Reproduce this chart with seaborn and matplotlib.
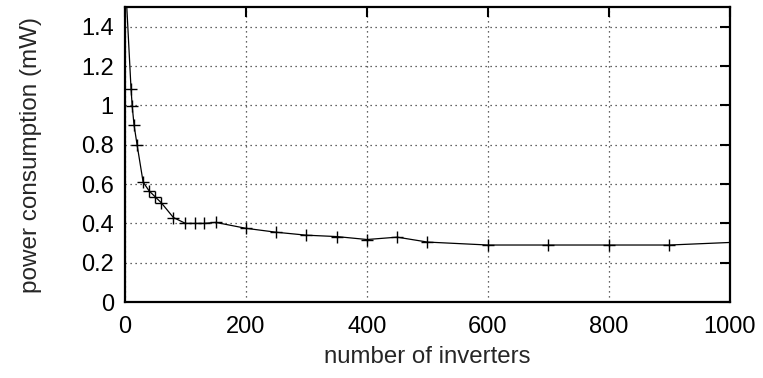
import matplotlib
matplotlib.use("Agg")
import matplotlib.pyplot as plt
import seaborn as sns
import pandas as pd

inverters = [2, 10, 12, 15, 20, 30, 40, 50, 60, 80, 100, 115, 130, 150,
             200, 250, 300, 350, 400, 450, 500, 600, 700, 800, 900, 1100]
power = [1.56, 1.085, 0.995, 0.90, 0.80, 0.61, 0.565, 0.535, 0.505, 0.43,
         0.40, 0.40, 0.40, 0.405, 0.375, 0.355, 0.34, 0.333, 0.318, 0.33,
         0.305, 0.29, 0.29, 0.29, 0.29, 0.316]
x_ticks = [0, 200, 400, 600, 800, 1000]
y_ticks = [0, 0.2, 0.4, 0.6, 0.8, 1.0, 1.2, 1.4]
y_tick_labels = ["0", "0.2", "0.4", "0.6", "0.8", "1", "1.2", "1.4"]

sns.set_style("white")
plt.rcParams['font.family'] = ['Liberation Sans', 'DejaVu Sans']

df = pd.DataFrame({"n": inverters, "p": power})

fig = plt.figure(figsize=(7.63, 3.78), dpi=100)
ax = fig.add_axes([0.1638, 0.201, 0.7929, 0.780])

sns.lineplot(data=df, x="n", y="p", ax=ax, color="black", linewidth=0.9,
             marker="+", markersize=9, markeredgewidth=1.0,
             markeredgecolor="black", sort=False)

ax.set_xlim(0, 1000)
ax.set_ylim(0, 1.5)
ax.set_xticks(x_ticks)
ax.set_xticklabels([str(t) for t in x_ticks])
ax.set_yticks(y_ticks)
ax.set_yticklabels(y_tick_labels)

ax.grid(True, color="#333333", linestyle=(0, (1, 3)), linewidth=0.9)
ax.set_axisbelow(True)

for s in ax.spines.values():
    s.set_visible(True)
    s.set_color("black")
    s.set_linewidth(1.6)

ax.tick_params(axis="both", which="major", direction="in", length=7,
               width=1.5, labelsize=17, top=True, right=True,
               color="black", labelcolor="black")
ax.tick_params(axis="x", pad=10)
ax.tick_params(axis="y", pad=8)

ax.set_xlabel("number of inverters", fontsize=17.3, labelpad=6)
ax.set_ylabel("power consumption (mW)", fontsize=17.5, labelpad=28)

fig.savefig("out.png", dpi=100)
